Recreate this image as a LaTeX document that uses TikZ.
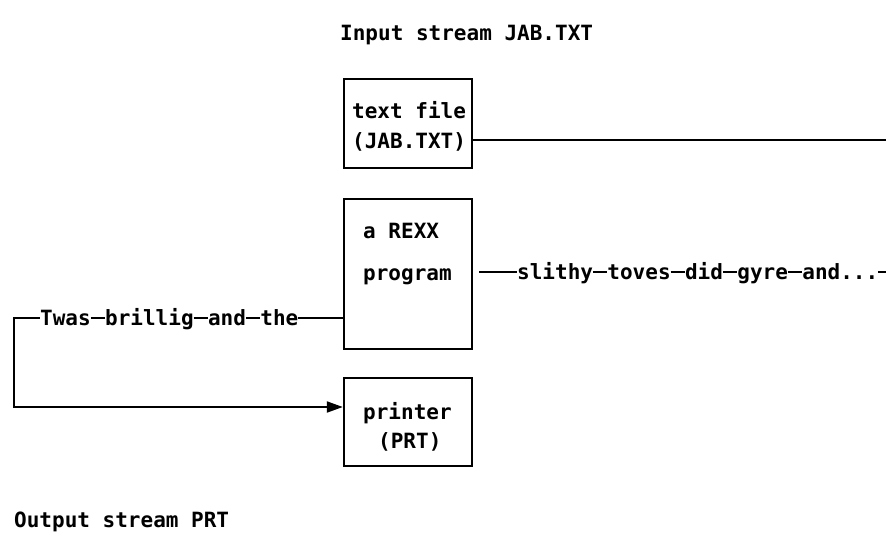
\documentclass[tikz,border=0pt]{standalone}
\usepackage{fontspec}
\setmonofont{DejaVu Sans Mono}
\usetikzlibrary{arrows.meta}
\tikzset{
  unit/.style={draw, line width=2.4pt, minimum width=128pt, inner sep=0pt},
  mono/.style={font=\fontsize{21}{25}\selectfont\ttfamily\bfseries, inner sep=0pt, anchor=base west},
  wire/.style={line width=2pt},
}
% dash drawn at the height of a wire
\newcommand\hop{\rule[6.3pt]{14.4pt}{2pt}}
\begin{document}
\begin{tikzpicture}[x=1pt,y=-1pt]
      \useasboundingbox (0,0) rectangle (886,541);
      \node[unit, minimum height=89pt] (jab) at (408,123.5) {};
      \node[unit, minimum height=150pt] (rexx) at (408,274) {};
      \node[unit, minimum height=88pt] (prt) at (408,422) {};
      \node[mono] (instream) at (340,40) {Input stream JAB.TXT};
      \node[mono] (jabname) at (352,118) {text file};
      \node[mono] (jabfile) at (352,148) {(JAB.TXT)};
      \node[mono] (rexxname) at (363,238) {a REXX};
      \node[mono] (rexxkind) at (363,280) {program};
      \node[mono] (prtname) at (363,419) {printer};
      \node[mono] (prtfile) at (378,448) {(PRT)};
      \node[mono] (outstream) at (14,527) {Output stream PRT};
      \coordinate (jabout) at (886,140);
      \coordinate (rexxout) at (886,272);
      \coordinate (bend) at (14,318);
      \coordinate (turn) at (14,407);
      \begin{scope}[wire]
        \draw (jab.east |- jabout) -- (jabout);
        \draw (rexx.east |- rexxout) ++(6,0) -- (rexxout);
        \draw[-{Triangle[length=16pt,width=11pt]}] (rexx.west |- bend) -- (bend) -- (turn) -- (prt.west |- turn);
      \end{scope}
      \node[mono, fill=white] (wordsin) at (40,325) {Twas\hop brillig\hop and\hop the};
      \node[mono, fill=white] (wordsout) at (517,279) {slithy\hop toves\hop did\hop gyre\hop and...};
    \end{tikzpicture}
\end{document}
